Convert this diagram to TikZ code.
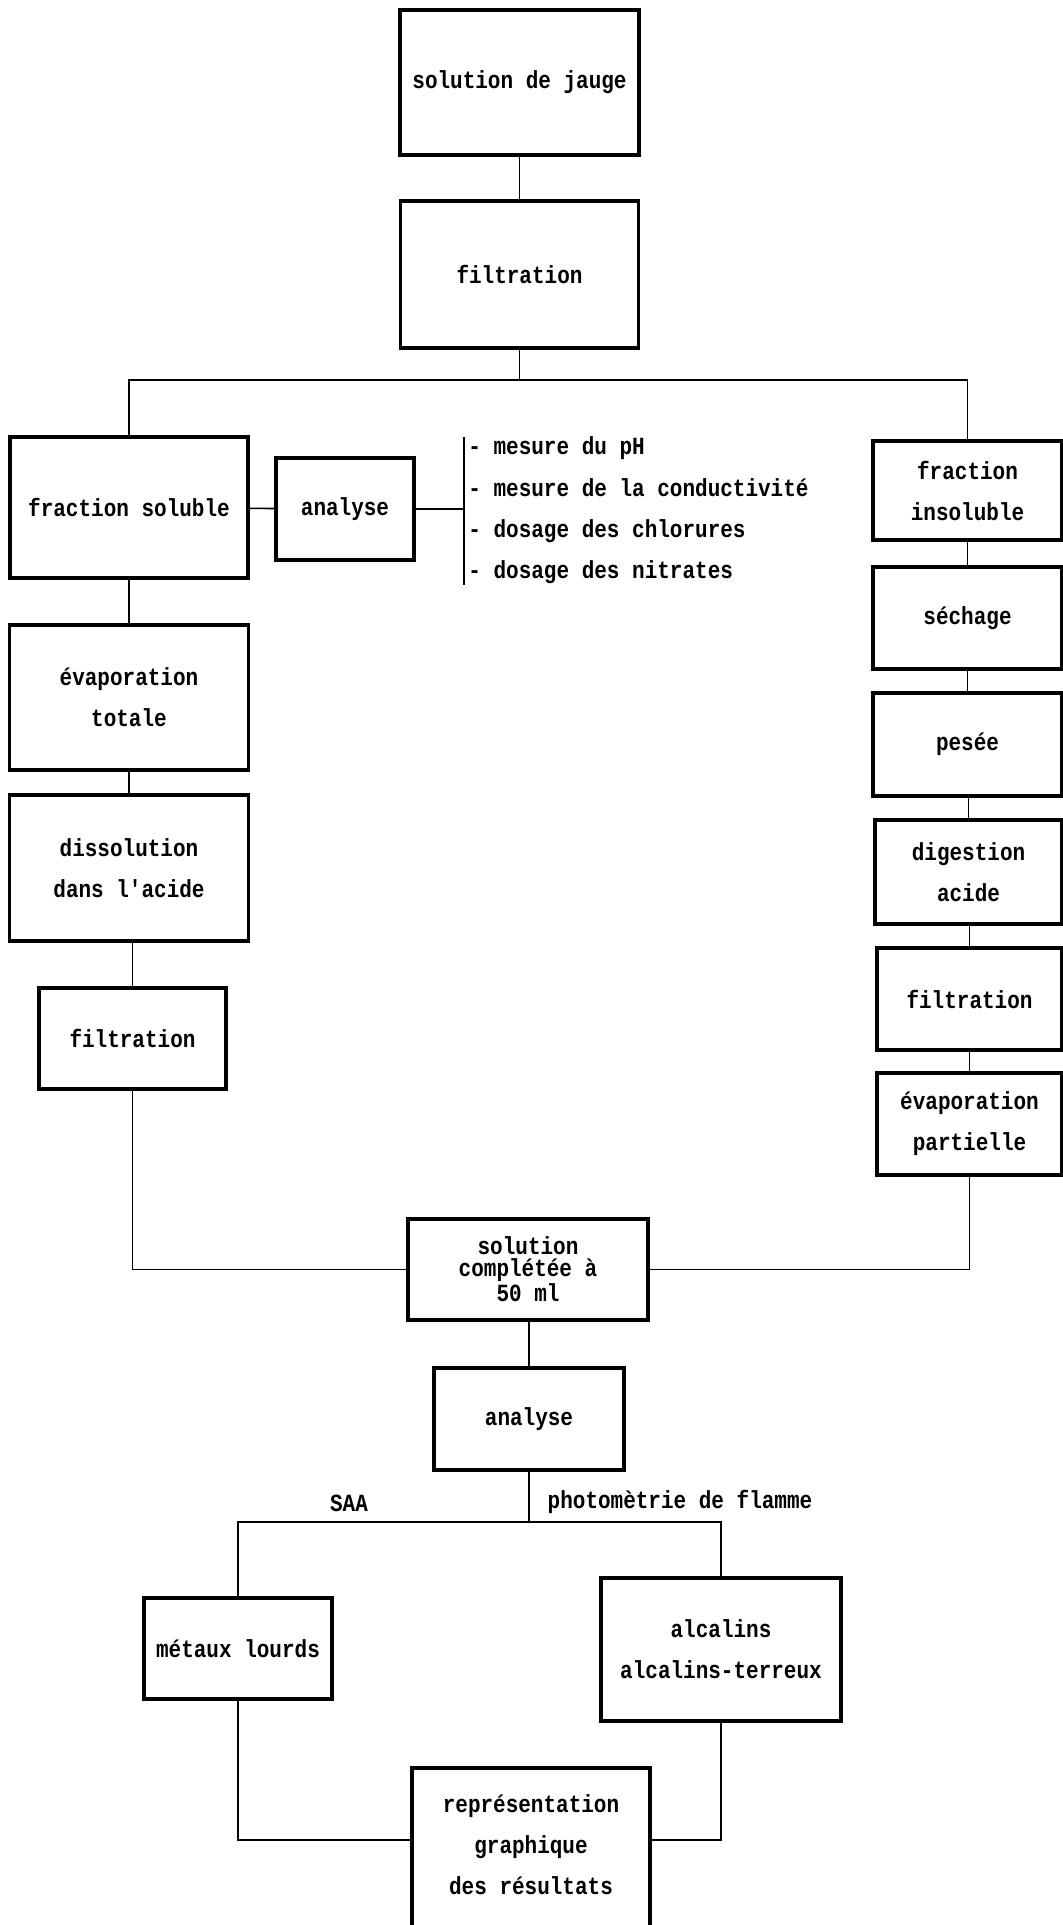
\documentclass[tikz,border=0pt]{standalone}
\usepackage{fontspec}
\newfontfamily\dotfont[FakeStretch=0.85]{Liberation Mono}
\newcommand\txt{\dotfont\bfseries\fontsize{12.35}{20.5}\selectfont}
\newcommand\txttight{\dotfont\bfseries\fontsize{12.35}{11}\selectfont}
\begin{document}
\begin{tikzpicture}[x=0.5pt, y=-0.5pt,
  box/.style={draw, line width=1.75pt, inner sep=0pt, align=center, font=\txt},
  sz/.style 2 args={minimum width=#1*0.5pt, minimum height=#2*0.5pt},
  conn/.style={line width=0.8pt},
  lab/.style={font=\txt, inner sep=0pt, align=center}]
\fill[white] (0,0) rectangle (1063,1925);
\useasboundingbox (0,0) rectangle (1063,1925);

% top
\node[box, sz={239}{145}] (jauge) at (519.5,82.5) {solution de jauge};
\node[box, sz={238}{147}] (filtA) at (519.5,274.5) {filtration};

% left column
\node[box, sz={238}{141}] (sol) at (129,507.5) {fraction soluble};
\node[box, sz={138}{102}] (anaA) at (345,509) {analyse};
\node[box, sz={239}{145}] (evapT) at (129,697.5) {évaporation\\totale};
\node[box, sz={239}{146}] (diss) at (129,868) {dissolution\\dans l'acide};
\node[box, sz={187}{101}] (filtB) at (132.5,1038.5) {filtration};

% right column
\node[box, sz={189}{99}] (insol) at (967.5,490.5) {fraction\\insoluble};
\node[box, sz={189}{102}] (sech) at (967.5,618) {séchage};
\node[box, sz={189}{103}] (pes) at (967.5,744.5) {pesée};
\node[box, sz={187}{104}] (dig) at (968.5,872) {digestion\\acide};
\node[box, sz={185}{102}] (filtC) at (969.5,999) {filtration};
\node[box, sz={185}{102}] (evapP) at (969.5,1124) {évaporation\\partielle};

% bottom part
\node[box, sz={240}{101}, font=\txttight] (compl) at (528,1269.5) {solution\\complétée à\\50 ml};
\node[box, sz={190}{102}] (anaB) at (529,1419) {analyse};
\node[box, sz={188}{101}] (met) at (238,1648.5) {métaux lourds};
\node[box, sz={240}{143}] (alc) at (721,1649.5) {alcalins\\alcalins-terreux};
\node[box, sz={238}{174}, label={[lab, yshift=5pt]center:{représentation\\graphique\\des résultats}}] (rep) at (531,1855) {};

% analysis list
\coordinate (brT) at (464,437);
\coordinate (brB) at (464,585);
\draw[conn] (brT) -- (brB);
\node[lab, anchor=base west] (m1) at (468,455) {- mesure du pH};
\node[lab, anchor=base west] (m2) at (468,496) {- mesure de la conductivité};
\node[lab, anchor=base west] (m3) at (468,537) {- dosage des chlorures};
\node[lab, anchor=base west] (m4) at (468,578) {- dosage des nitrates};

% connectors
\coordinate (forkT) at (519.5,380);
\draw[conn] (jauge) -- (filtA);
\draw[conn] (filtA) -- (forkT);
\draw[conn] (sol.north) |- (forkT) -| (insol.north);
\draw[conn] (sol) -- (anaA);
\draw[conn] (anaA.east) -- (anaA.east -| brT);
\draw[conn] (sol) -- (evapT);
\draw[conn] (evapT) -- (diss);
\draw[conn] (filtB.north |- diss.south) -- (filtB.north);
\draw[conn] (insol) -- (sech);
\draw[conn] (sech) -- (pes);
\draw[conn] (dig.north |- pes.south) -- (dig.north);
\draw[conn] (filtC.north |- dig.south) -- (filtC.north);
\draw[conn] (filtC) -- (evapP);
\draw[conn] (filtB.south) |- (compl.west);
\draw[conn] (evapP.south) |- (compl.east);
\draw[conn] (compl.south -| anaB.north) -- (anaB.north);
\coordinate (forkB) at (529,1522);
\draw[conn] (anaB.south) -- (forkB);
\draw[conn] (met.north) |- (forkB) -| (alc.north);
\node[lab] (saa) at (349,1503) {SAA};
\node[lab] (photo) at (680,1502) {photomètrie de flamme};
\draw[conn] (met.south) |- ([yshift=7.5pt]rep.west);
\draw[conn] (alc.south) |- ([yshift=7.5pt]rep.east);
\end{tikzpicture}
\end{document}
